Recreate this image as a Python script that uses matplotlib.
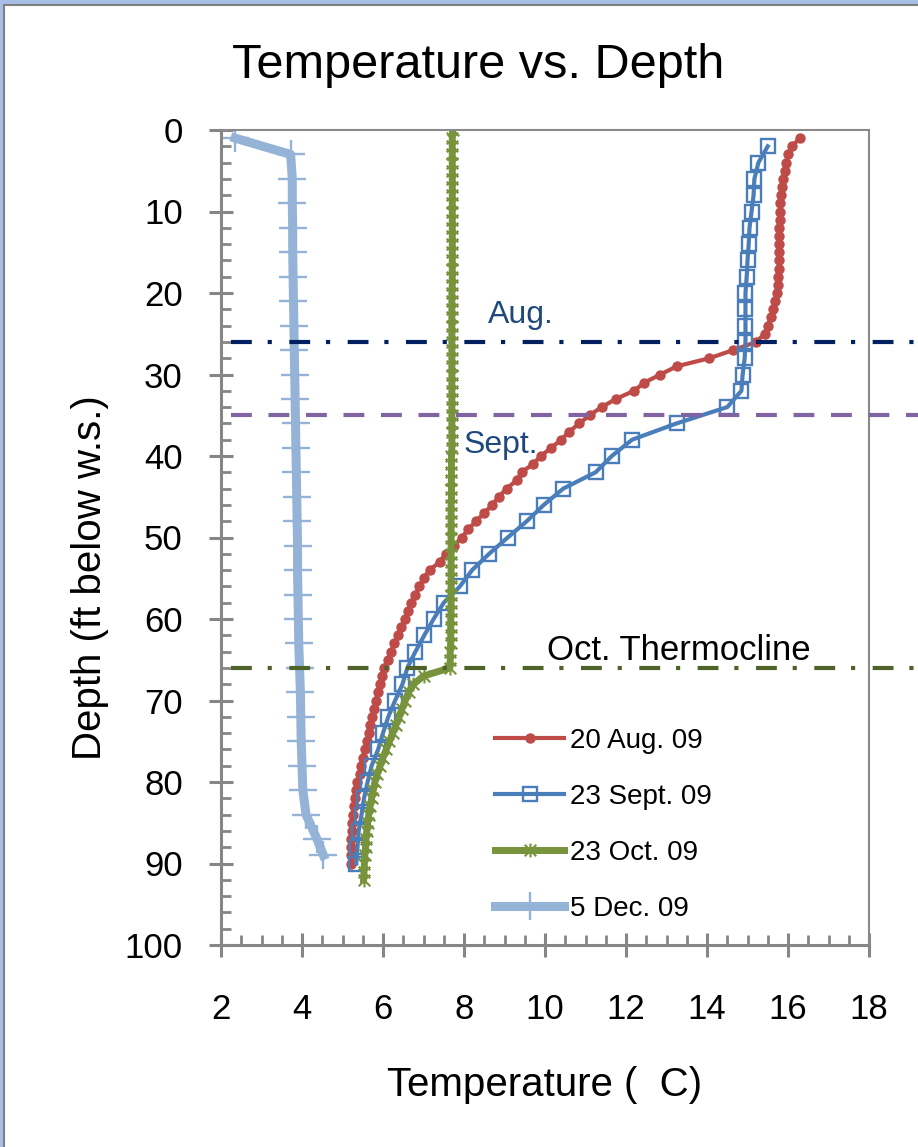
import matplotlib
matplotlib.use("Agg")
import matplotlib.pyplot as plt
from matplotlib.patches import Rectangle
from matplotlib import font_manager
from matplotlib.path import Path

# --- data: temperature (C) read at each depth (ft below water surface) ---
aug_depth = list(range(1, 91))
aug_temp = [16.29, 16.10, 16.00, 15.95, 15.92, 15.88, 15.85, 15.83, 15.81, 15.80,
            15.80, 15.79, 15.78, 15.78, 15.77, 15.77, 15.77, 15.76, 15.75, 15.72,
            15.68, 15.64, 15.57, 15.50, 15.42, 15.22, 14.65, 14.06, 13.25, 12.85,
            12.45, 12.20, 11.75, 11.40, 11.10, 10.85, 10.60, 10.40, 10.15, 9.90,
            9.70, 9.42, 9.30, 9.05, 8.86, 8.70, 8.50, 8.30, 8.10, 7.95,
            7.75, 7.55, 7.40, 7.15, 7.00, 6.90, 6.80, 6.70, 6.62, 6.55,
            6.45, 6.37, 6.28, 6.20, 6.12, 6.03, 5.97, 5.92, 5.87, 5.82,
            5.78, 5.73, 5.69, 5.65, 5.60, 5.55, 5.50, 5.46, 5.42, 5.37,
            5.34, 5.30, 5.28, 5.26, 5.24, 5.23, 5.22, 5.21, 5.20, 5.20]

sep_depth = list(range(2, 91, 2))
sep_temp = [15.50, 15.27, 15.17, 15.15, 15.10, 15.05, 15.03, 15.00, 14.98, 14.95,
            14.95, 14.95, 14.95, 14.93, 14.88, 14.85, 14.50, 13.25, 12.15, 11.65,
            11.25, 10.45, 9.97, 9.55, 9.08, 8.62, 8.20, 7.90, 7.50, 7.25,
            7.02, 6.80, 6.60, 6.48, 6.30, 6.13, 6.00, 5.88, 5.72, 5.62,
            5.53, 5.47, 5.40, 5.37, 5.34]

oct_depth = list(range(0, 93))
oct_temp = [7.72, 7.71, 7.71, 7.71, 7.71, 7.71, 7.71, 7.71, 7.71, 7.71,
            7.71, 7.71, 7.71, 7.71, 7.71, 7.71, 7.71, 7.71, 7.71, 7.71,
            7.70, 7.70, 7.70, 7.70, 7.70, 7.70, 7.70, 7.70, 7.70, 7.70,
            7.70, 7.70, 7.70, 7.70, 7.70, 7.70, 7.70, 7.70, 7.70, 7.70,
            7.69, 7.69, 7.69, 7.69, 7.69, 7.69, 7.68, 7.68, 7.68, 7.68,
            7.68, 7.68, 7.68, 7.68, 7.68, 7.68, 7.68, 7.68, 7.68, 7.68,
            7.67, 7.67, 7.67, 7.67, 7.66, 7.66, 7.65, 7.00, 6.75, 6.63,
            6.55, 6.47, 6.40, 6.32, 6.24, 6.16, 6.08, 6.00, 5.93, 5.86,
            5.80, 5.76, 5.72, 5.68, 5.65, 5.62, 5.60, 5.58, 5.57, 5.55,
            5.54, 5.53, 5.52]

dec_depth = [1, 3, 6, 9, 12, 15, 18, 21, 24, 27, 30, 33, 36, 39, 42, 45,
             48, 51, 54, 57, 60, 63, 66, 69, 72, 75, 78, 81, 84, 87, 89]
dec_temp = [2.35, 3.72, 3.76, 3.76, 3.77, 3.77, 3.78, 3.79, 3.80, 3.81, 3.82,
            3.83, 3.84, 3.85, 3.86, 3.87, 3.88, 3.89, 3.89, 3.90, 3.91, 3.92,
            3.94, 3.96, 3.97, 3.98, 4.00, 4.02, 4.10, 4.37, 4.53]

labels = ["20 Aug. 09", "23 Sept. 09", "23 Oct. 09", "5 Dec. 09"]

# thermocline depths
aug_line = 26
sep_line = 35
oct_line = 66


def have_font(name):
    try:
        font_manager.findfont(font_manager.FontProperties(family=name),
                              fallback_to_default=False)
        return True
    except Exception:
        return False


narrow = have_font("Liberation Sans Narrow")
plt.rcParams['font.family'] = ['Liberation Sans', 'DejaVu Sans']

W, H = 918, 1147
fig = plt.figure(figsize=(W / 100, H / 100), dpi=100)
fig.patch.set_facecolor('#a7bfe4')
fig.add_artist(Rectangle((3.5 / W, -0.02), 1.05, (H - 5) / H + 0.02,
                         transform=fig.transFigure, facecolor='white',
                         edgecolor='#7f7f7f', lw=1.5, zorder=-5))

ax = fig.add_axes([221 / W, 1 - 945 / H, (869 - 221) / W, (945 - 130) / H])

# star marker like Excel's (x with a vertical bar)
star = Path([(-1, -1), (1, 1), (-1, 1), (1, -1), (0, -1.2), (0, 1.2)],
            [Path.MOVETO, Path.LINETO, Path.MOVETO, Path.LINETO,
             Path.MOVETO, Path.LINETO])

ax.plot(aug_temp, aug_depth, color='#be4b48', lw=3, marker='o', ms=6.5,
        mec='#be4b48', label=labels[0])
ax.plot(sep_temp, sep_depth, color='#4a7ebb', lw=3, marker='s', ms=10,
        mfc='none', mec='#4a7ebb', mew=1.7, label=labels[1])
ax.plot(oct_temp, oct_depth, color='#77933c', lw=5, marker=star, ms=10,
        mec='#77933c', mew=1.5, label=labels[2])
ax.plot(dec_temp, dec_depth, color='#95b3d7', lw=6.5, marker='+', ms=20,
        mec='#95b3d7', mew=1.7, label=labels[3])

# thermocline markers, running past the plot frame
ax.plot([2.25, 19.5], [aug_line, aug_line], color='#002060', lw=3,
        ls=(0, (5, 3.8, 1, 4.2)), clip_on=False, zorder=5)
ax.plot([2.25, 19.5], [sep_line, sep_line], color='#8064a2', lw=3,
        ls=(0, (5, 4)), clip_on=False, zorder=5)
ax.plot([2.25, 19.5], [oct_line, oct_line], color='#4f6228', lw=3,
        ls=(0, (5, 3.8, 1, 4.2)), clip_on=False, zorder=5)

ax.text(9.4, 23.7, "Aug.", color='#1f497d', fontsize=23, ha='center',
        va='baseline')
ax.text(8.9, 39.6, "Sept.", color='#1f497d', fontsize=23, ha='center',
        va='baseline')
ax.text(13.3, 65.0, "Oct. Thermocline", color='black', fontsize=25,
        ha='center', va='baseline')

ax.set_xlim(2, 18)
ax.set_ylim(100, 0)
ax.set_xticks(range(2, 19, 2))
ax.set_yticks(range(0, 101, 10))
ax.set_xticks([x / 2 for x in range(4, 37)], minor=True)
ax.set_yticks(range(0, 101, 2), minor=True)

for s in ['left', 'bottom']:
    ax.spines[s].set_color('#868686')
    ax.spines[s].set_linewidth(2.2)
for s in ['top', 'right']:
    ax.spines[s].set_color('#8a8a8a')
    ax.spines[s].set_linewidth(1.5)

ax.tick_params(which='major', direction='inout', length=17, width=2.2,
               color='#868686', labelsize=25)
ax.tick_params(which='minor', direction='in', length=7, width=2,
               color='#868686')
ax.tick_params(axis='y', which='major', pad=19)
ax.tick_params(axis='x', which='major', pad=26)

leg = ax.legend(loc='upper left', bbox_to_anchor=(495 / W, 1 - 728 / H),
                bbox_transform=fig.transFigure, frameon=False, fontsize=20,
                handlelength=2.5, handletextpad=0.2, labelspacing=1.08,
                borderpad=0, borderaxespad=0, numpoints=1)

if narrow:
    fig.text(478 / W, 1 - 78 / H, "Temperature vs. Depth", fontsize=43,
             family=['Liberation Sans Narrow', 'DejaVu Sans'],
             ha='center', va='baseline')
else:
    fig.text(478 / W, 1 - 78 / H, "Temperature vs. Depth", fontsize=35,
             ha='center', va='baseline')

fig.text(90 / W, 1 - 578 / H, "Depth (ft below w.s.)", fontsize=29,
         rotation=90, ha='center', va='center')
fig.text(545 / W, 1 - 1096 / H, "Temperature (  C)", fontsize=29,
         ha='center', va='baseline')

fig.savefig("out.png", dpi=100, facecolor=fig.get_facecolor())
